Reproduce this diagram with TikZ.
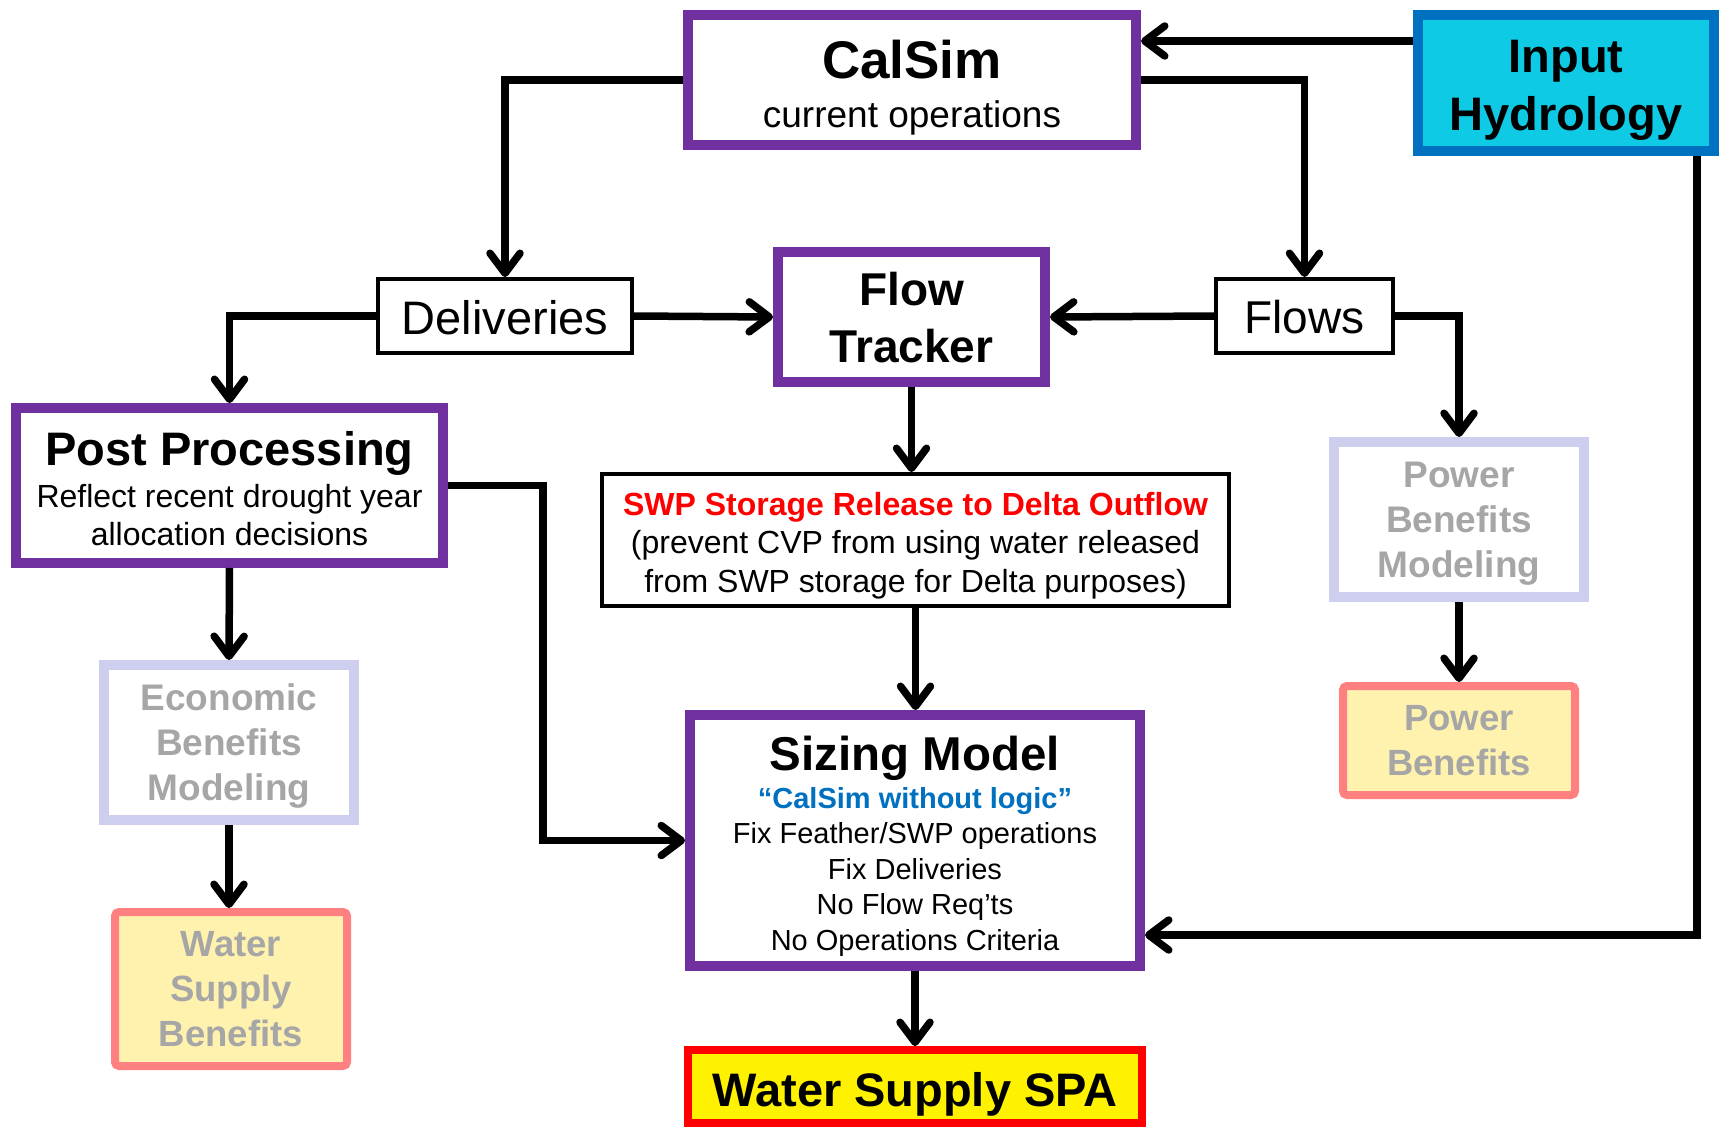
\documentclass[tikz,border=0pt]{standalone}
\usepackage{fontspec}
\setmainfont{Liberation Sans}
\usetikzlibrary{arrows.meta}

\definecolor{boxpurple}{RGB}{112,48,160}
\definecolor{inputblue}{RGB}{0,112,192}
\definecolor{inputcyan}{RGB}{14,202,228}
\definecolor{lavender}{RGB}{206,206,238}
\definecolor{benefitgray}{RGB}{166,166,166}
\definecolor{salmon}{RGB}{255,128,128}
\definecolor{paleyellow}{RGB}{255,242,175}
\definecolor{textblue}{RGB}{0,112,192}

\tikzset{
  arrowline/.style={draw, line width=7.5pt,
    -{Straight Barb[length=20pt,width=30pt,line cap=round,line join=round]}},
  mainbox/.style={draw=boxpurple, line width=10pt, fill=white, inner sep=0pt, align=center, text depth=0pt},
  plainbox/.style={draw=black, line width=4pt, fill=white, inner sep=0pt, align=center, text depth=0pt},
  modelbox/.style={draw=lavender, line width=10pt, fill=white, inner sep=0pt, align=center,
    text=benefitgray, font=\fontsize{37}{45}\selectfont\bfseries},
  resultbox/.style={draw=salmon, line width=8pt, fill=paleyellow, rounded corners=4pt,
    inner sep=0pt, align=center, text=benefitgray, font=\fontsize{36.5}{45}\selectfont\bfseries}
}

\begin{document}
\begin{tikzpicture}[x=1pt, y=-1pt]
	\useasboundingbox (0,0) rectangle (1719,1127);
	% boxes
	\node[mainbox, minimum width=448pt, minimum height=130pt, text height=94pt, font=\fontsize{37}{49}\selectfont] (calsim) at (912,80)
		{{\fontsize{53}{49}\selectfont\bfseries CalSim}\\current operations};
	\node[draw=inputblue, fill=inputcyan, line width=10pt, inner sep=0pt, align=center, text depth=0pt, text height=95pt,
		minimum width=296pt, minimum height=136pt, font=\fontsize{47}{58}\selectfont\bfseries] (input) at (1566,83)
		{Input\\Hydrology};
	\node[mainbox, minimum width=267pt, minimum height=130pt, font=\fontsize{46}{57}\selectfont\bfseries] (tracker) at (911.5,317)
		{Flow\\Tracker};
	\node[plainbox, minimum width=254pt, minimum height=74pt, text height=36pt, font=\fontsize{47}{56}\selectfont] (deliv) at (505,316) {Deliveries};
	\node[plainbox, minimum width=177pt, minimum height=74pt, text height=35pt, font=\fontsize{46}{56}\selectfont] (flows) at (1304.5,316) {Flows};
	\node[mainbox, minimum width=427pt, minimum height=155pt, text height=120pt, font=\fontsize{32}{38}\selectfont] (post) at (229.5,485.5)
		{{\fontsize{47}{38}\selectfont\bfseries Post Processing}\\[4pt]Reflect recent drought year\\allocation decisions};
	\node[plainbox, minimum width=627pt, minimum height=132pt, text height=104pt, font=\fontsize{32}{38.4}\selectfont] (swp) at (915.5,540)
		{{\color{red}\bfseries SWP Storage Release to Delta Outflow}\\(prevent CVP from using water released\\from SWP storage for Delta purposes)};
	\node[mainbox, minimum width=450pt, minimum height=251pt, text height=219.5pt, font=\fontsize{29}{35.5}\selectfont] (sizing) at (915,840.5)
		{{\fontsize{47.5}{35}\selectfont\bfseries Sizing Model}\\[2.5pt]{\color{textblue}\bfseries “CalSim without logic”}\\Fix Feather/SWP operations\\Fix Deliveries\\No Flow Req’ts\\No Operations Criteria};
	\node[draw=red, fill=yellow, line width=8pt, inner sep=0pt, minimum width=454pt, minimum height=73pt, text depth=0pt, text height=40.5pt,
		font=\fontsize{47}{56}\selectfont\bfseries] (spa) at (915,1086.5) {Water Supply SPA};
	\node[modelbox, minimum width=250pt, minimum height=155pt, text depth=0pt] (econ) at (229,742.5) {Economic\\Benefits\\Modeling};
	\node[resultbox, minimum width=232pt, minimum height=154pt, text depth=0pt] (watben) at (231,989) {Water\\Supply\\Benefits};
	\node[modelbox, minimum width=250pt, minimum height=155pt, text depth=0pt] (powermod) at (1459,519.5) {Power\\Benefits\\Modeling};
	\node[resultbox, minimum width=232pt, minimum height=109pt, text depth=0pt] (powben) at (1459,740.5) {Power\\Benefits};
	% connectors
	\draw[arrowline] ([yshift=-31pt]input.north west) -- ([yshift=-31pt]input.north west -| calsim.east);
	\draw[arrowline] (calsim.west) -| (deliv.north);
	\draw[arrowline] (calsim.east) -| (flows.north);
	\draw[arrowline] (deliv.east) -- (tracker.west);
	\draw[arrowline] (flows.west) -- (tracker.east);
	\draw[arrowline] (deliv.west) -| (post.north);
	\draw[arrowline] (flows.east) -| (powermod.north);
	\draw[arrowline] (tracker.south) -- (tracker.south |- swp.north);
	\draw[arrowline] (swp.south) -- (swp.south |- sizing.north);
	\draw[arrowline] (post.east) -- ++(95,0) |- (sizing.west);
	\draw[arrowline] ([xshift=131pt]input.south) |- ([yshift=-94.5pt]sizing.east);
	\draw[arrowline] (sizing.south) -- (spa.north);
	\draw[arrowline] (post.south) -- (econ.north);
	\draw[arrowline] (econ.south) -- (econ.south |- watben.north);
	\draw[arrowline] (powermod.south) -- (powben.north);
\end{tikzpicture}
\end{document}
